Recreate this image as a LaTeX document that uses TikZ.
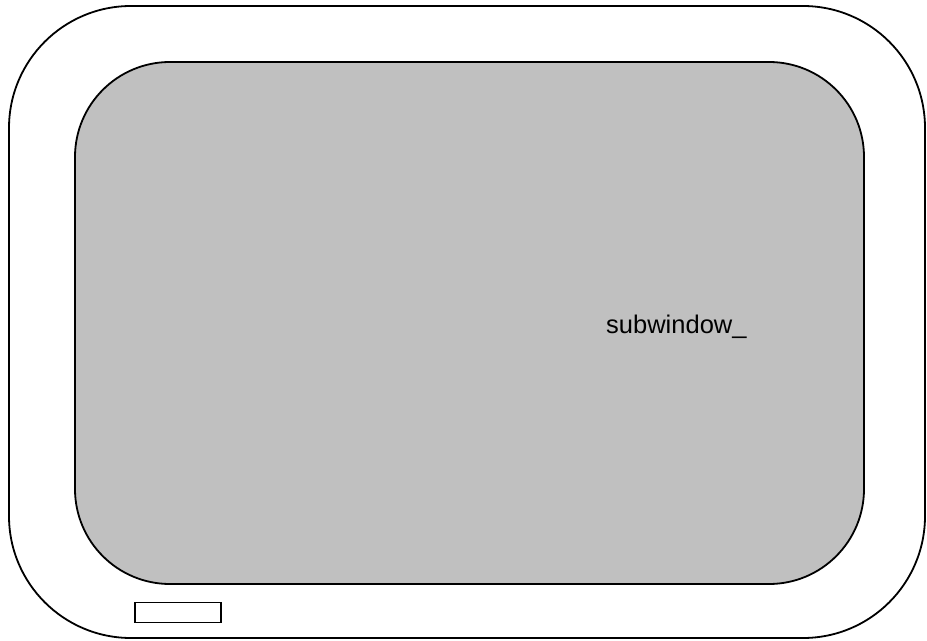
\documentclass[tikz,border=0pt]{standalone}
\usepackage{fontspec}
\setmainfont{Liberation Sans}
\definecolor{panelgray}{RGB}{192,192,192}
\begin{document}
\begin{tikzpicture}[x=1bp,y=-1bp,
  frame/.style={draw=black,line width=1.8bp},
  lbl/.style={font=\fontsize{25.6}{30}\selectfont,inner sep=0pt,anchor=base west}]
\useasboundingbox (0,0) rectangle (927,641);
\draw[frame,rounded corners=122bp] (9,6) rectangle (925,638);
\draw[frame,fill=panelgray,rounded corners=95bp] (75,62) rectangle (864,584);
\node[draw=black,line width=1.8bp,minimum width=86bp,minimum height=20bp,inner sep=0pt] (btn) at (178,612.5) {};
\node[lbl] (sub) at (606,333) {subwindow\_};
\end{tikzpicture}
\end{document}
